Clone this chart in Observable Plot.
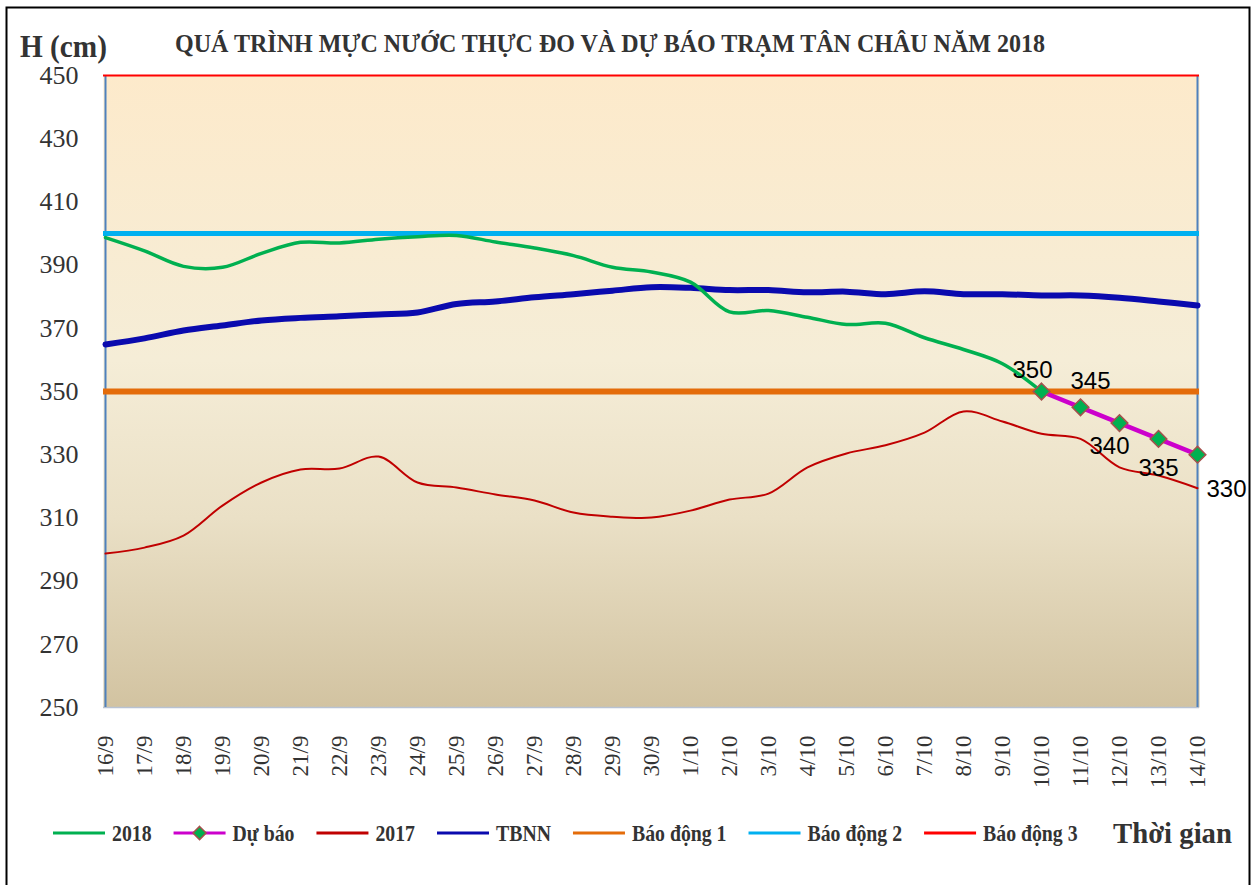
<!DOCTYPE html>
<html><head><meta charset="utf-8">
<script src="https://cdn.jsdelivr.net/npm/d3@7"></script>
<script src="https://cdn.jsdelivr.net/npm/@observablehq/plot@0.6"></script>
<style>
body{margin:0;background:#fff}
#chart{position:relative;width:1257px;height:885px}
</style>
</head><body><div id="chart"></div>
<script>
// ---------- data ----------
const dates = ["16/9","17/9","18/9","19/9","20/9","21/9","22/9","23/9","24/9","25/9","26/9","27/9","28/9","29/9","30/9",
  "1/10","2/10","3/10","4/10","5/10","6/10","7/10","8/10","9/10","10/10","11/10","12/10","13/10","14/10"];
const h2018 = [398.7,394.5,389.6,389.3,393.7,397.2,397.0,398.2,399.0,399.4,397.3,395.4,393.0,389.3,387.8,
  384.6,375.2,375.6,373.5,371.2,371.6,367.0,363.3,358.8,350];
const forecastDates = ["10/10","11/10","12/10","13/10","14/10"];
const forecast = [350,345,340,335,330];
const h2017 = [298.7,300.6,304.4,313.9,321.2,325.3,325.6,329.4,321.2,319.6,317.4,315.5,311.7,310.4,310.1,
  312.3,315.8,317.7,326.0,330.4,333.0,337.0,343.7,340.5,336.6,335.0,326.0,323.4,319.4];
const tbnn = [364.9,366.8,369.3,370.9,372.5,373.3,373.8,374.4,375.0,377.7,378.5,379.8,380.8,381.9,383.0,
  382.8,382.1,382.1,381.4,381.6,380.8,381.7,380.8,380.8,380.4,380.4,379.7,378.5,377.2];
const alertNames = ["Báo động 1","Báo động 2","Báo động 3"];
const alertLevels = [350,400,450];
const yTicks = [250,270,290,310,330,350,370,390,410,430,450];
const seriesNames = ["2018","Dự báo","2017","TBNN","Báo động 1","Báo động 2","Báo động 3"];
const titleText = "QUÁ TRÌNH MỰC NƯỚC THỰC ĐO VÀ DỰ BÁO TRẠM TÂN CHÂU NĂM 2018";

// ---------- styles ----------
const C = {
  "2018":"#00B050", "Dự báo":"#CC00CC", "2017":"#C00000", "TBNN":"#0A0AAE",
  "Báo động 1":"#E46C0A", "Báo động 2":"#00B0F0", "Báo động 3":"#FF0000"
};
const W = {"2018":3.5, "Dự báo":4.5, "2017":2, "TBNN":6, "Báo động 1":6, "Báo động 2":5, "Báo động 3":2};
const serif = "Liberation Serif, Times New Roman, serif";
const labelOffsets = [[-9,-21],[10,-26],[-10,23],[0,29],[29,35]];

const rows = (xs, ys) => xs.map((d,i)=>({d, v: ys[i]})).filter(r => r.v != null);
const r2018 = rows(dates.slice(0,h2018.length), h2018);
const rF = rows(forecastDates, forecast);
const r2017 = rows(dates, h2017);
const rT = rows(dates, tbnn);

const plot = Plot.plot({
  width:1257, height:885,
  marginLeft:103, marginRight:58, marginTop:75, marginBottom:178,
  style:{background:"transparent", fontFamily:serif, overflow:"visible"},
  x:{type:"point", domain:dates, padding:0, label:null},
  y:{domain:[250,450], label:null},
  marks:[
    Plot.frame({fill:"url(#bgGrad)", stroke:null}),
    Plot.ruleY([250], {stroke:"#B8C2D2", strokeWidth:1.5}),
    Plot.ruleX([dates[0], dates[dates.length-1]], {stroke:"#4F81BD", strokeWidth:2}),
    Plot.axisY({ticks:yTicks, tickSize:0, tickPadding:25, fontSize:26, fontFamily:serif, fill:"#333", label:null}),
    Plot.axisX({ticks:dates, tickSize:0, tickPadding:28, tickRotate:-90, fontSize:23, fontFamily:serif, fill:"#333", label:null}),
    ...alertLevels.map((lv,i)=>Plot.ruleY([lv], {stroke:C[alertNames[i]], strokeWidth:W[alertNames[i]]})),
    Plot.line(rT, {x:"d", y:"v", stroke:C["TBNN"], strokeWidth:W["TBNN"], curve:"catmull-rom"}),
    Plot.line(r2017, {x:"d", y:"v", stroke:C["2017"], strokeWidth:W["2017"], curve:"catmull-rom"}),
    Plot.line(r2018, {x:"d", y:"v", stroke:C["2018"], strokeWidth:W["2018"], curve:"catmull-rom"}),
    Plot.line(rF, {x:"d", y:"v", stroke:C["Dự báo"], strokeWidth:W["Dự báo"]}),
    Plot.dot(rF, {x:"d", y:"v", symbol:"diamond2", r:7.5, fill:"#00B050", stroke:"#A5504C", strokeWidth:1.5}),
    ...rF.map((r,i)=>Plot.text([r], {x:"d", y:"v", text:d=>String(d.v), dx:labelOffsets[i][0], dy:labelOffsets[i][1],
      fontSize:24, fontFamily:"Liberation Sans, Arial, sans-serif", fill:"#000"}))
  ]
});
document.getElementById("chart").appendChild(plot);

const svg = d3.select(plot);
const defs = svg.insert("defs", ":first-child");
const g = defs.append("linearGradient").attr("id","bgGrad").attr("x1",0).attr("y1",0).attr("x2",0).attr("y2",1);
g.append("stop").attr("offset","0%").attr("stop-color","#FDEACB");
g.append("stop").attr("offset","45%").attr("stop-color","#F5EDD7");
g.append("stop").attr("offset","70%").attr("stop-color","#EAE0C6");
g.append("stop").attr("offset","100%").attr("stop-color","#D2C3A1");

// outer border
svg.append("rect").attr("x",6.5).attr("y",7.5).attr("width",1243).attr("height",895)
  .attr("fill","none").attr("stroke","#000").attr("stroke-width",2);

// title + y label
svg.append("text").attr("x",175).attr("y",52).attr("text-anchor","start").attr("font-family",serif).attr("font-weight","bold")
  .attr("font-size",26).attr("fill","#333").attr("textLength",870).attr("lengthAdjust","spacingAndGlyphs").text(titleText);
svg.append("text").attr("x",20).attr("y",57).attr("text-anchor","start").attr("font-family",serif).attr("font-weight","bold")
  .attr("font-size",31).attr("fill","#333").attr("textLength",87).attr("lengthAdjust","spacingAndGlyphs").text("H (cm)");

// legend
const lg = svg.append("g").attr("font-family",serif).attr("font-weight","bold").attr("fill","#333").attr("text-anchor","start");
let x = 53; const ly = 833;
seriesNames.forEach(name=>{
  lg.append("line").attr("x1",x).attr("x2",x+52).attr("y1",ly).attr("y2",ly)
    .attr("stroke",C[name]).attr("stroke-width",3);
  if (name==="Dự báo") {
    lg.append("path").attr("d", d3.symbol(d3.symbolDiamond2, 110)()).attr("transform",`translate(${x+26},${ly})`)
      .attr("fill","#00B050").attr("stroke","#A5504C").attr("stroke-width",1.5);
  }
  const t = lg.append("text").attr("x",x+59).attr("y",ly+8).attr("font-size",23).text(name);
  const w = t.node().getComputedTextLength()*0.86;
  t.attr("textLength",w).attr("lengthAdjust","spacingAndGlyphs");
  x += 59 + w + 22;
});
svg.append("text").attr("x",1113).attr("y",843).attr("text-anchor","start").attr("font-family",serif).attr("font-weight","bold")
  .attr("font-size",30).attr("fill","#333").attr("textLength",119).attr("lengthAdjust","spacingAndGlyphs").text("Thời gian");
</script>
</body></html>
